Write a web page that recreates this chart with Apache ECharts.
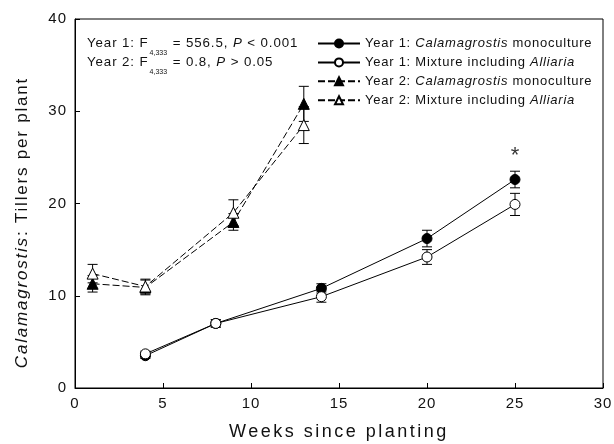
<!DOCTYPE html>
<html><head><meta charset="utf-8">
<script src="https://cdn.jsdelivr.net/npm/echarts@6/dist/echarts.min.js"></script>
<style>html,body{margin:0;padding:0;background:#fff}#c{width:614px;height:444px}</style>
</head><body><div id="c"></div>
<script>
// Data
const y1Weeks = [4, 8, 14, 20, 25];
const y1Mono = [3.5, 7.0, 10.8, 16.2, 22.6];
const y1MonoErr = [0.3, 0.4, 0.5, 0.9, 0.9];
const y1Mix = [3.7, 7.0, 9.9, 14.2, 19.9];
const y1MixErr = [0.3, 0.4, 0.6, 0.8, 1.2];
const y2Weeks = [1, 4, 9, 13];
const y2Mono = [11.3, 10.9, 18.0, 30.8];
const y2MonoErr = [0.9, 0.8, 0.9, 1.9];
const y2Mix = [12.4, 11.0, 19.0, 28.5];
const y2MixErr = [1.0, 0.8, 1.4, 2.0];
const seriesNames = ['Year 1: Calamagrostis monoculture', 'Year 1: Mixture including Alliaria', 'Year 2: Calamagrostis monoculture', 'Year 2: Mixture including Alliaria'];
const xTicks = [0, 5, 10, 15, 20, 25, 30];
const yTicks = [0, 10, 20, 30, 40];
const asterisk = [[25, 25.2]];

// Letter spacing per font size (the reference typesetting is slightly tracked out)
const trackBySize = { '18': '2.5px', '17': '1.8px', '15': '1px', '13': '0.75px', '13.3': '0.9px' };
(function () {
  const P = CanvasRenderingContext2D.prototype;
  const d = Object.getOwnPropertyDescriptor(P, 'font');
  if (!d || !('letterSpacing' in P)) return;
  Object.defineProperty(P, 'font', {
    configurable: true,
    get: function () { return d.get.call(this); },
    set: function (v) {
      d.set.call(this, v);
      const m = /(\d+(?:\.\d+)?)px/.exec(v);
      this.letterSpacing = (m && trackBySize[m[1]]) || '0px';
    }
  });
})();

const zip = (xs, ys) => xs.map((x, i) => [x, ys[i]]);
const zipE = (xs, ys, es) => xs.map((x, i) => [x, ys[i], es[i]]);

function errSeries(data) {
  return {
    type: 'custom', z: 1, silent: true, legendHoverLink: false,
    data: data,
    renderItem: function (params, api) {
      const x = api.value(0), y = api.value(1), e = api.value(2);
      const top = api.coord([x, y + e]);
      const bot = api.coord([x, y - e]);
      const hw = 5;
      const st = { stroke: '#000', lineWidth: 1 };
      return { type: 'group', children: [
        { type: 'line', shape: { x1: top[0], y1: top[1], x2: bot[0], y2: bot[1] }, style: st },
        { type: 'line', shape: { x1: top[0] - hw, y1: top[1], x2: top[0] + hw, y2: top[1] }, style: st },
        { type: 'line', shape: { x1: bot[0] - hw, y1: bot[1], x2: bot[0] + hw, y2: bot[1] }, style: st }
      ]};
    }
  };
}

function lineSeries(name, data, symbol, filled, dashed) {
  return {
    name: name, type: 'line', z: 3, data: data,
    symbol: symbol, symbolSize: symbol === 'triangle' ? 11 : 10,
    showAllSymbol: true,
    lineStyle: { color: '#000', width: 1, type: dashed ? [7, 3] : 'solid' },
    itemStyle: { color: filled ? '#000' : '#fff', borderColor: '#000', borderWidth: 1 },
    emphasis: { disabled: true }
  };
}

const fmtName = (n) => {
  const m = n.match(/^(Year \d: )(Calamagrostis)( monoculture)$/);
  if (m) return '{n|' + m[1] + '}{i|' + m[2] + '}{n|' + m[3] + '}';
  const k = n.match(/^(Year \d: Mixture including )(Alliaria)$/);
  return '{n|' + k[1] + '}{i|' + k[2] + '}';
};

const font = 'Liberation Sans, Arial, sans-serif';
const txt = '#111';
function statRich() {
  return {
    n: { fontSize: 13.3, fontFamily: font, fill: txt, lineHeight: 16, verticalAlign: 'top' },
    i: { fontSize: 13.3, fontStyle: 'italic', fontFamily: font, fill: txt, lineHeight: 16, verticalAlign: 'top' },
    s: { fontSize: 7, fontFamily: font, fill: txt, lineHeight: 7, verticalAlign: 'top', padding: [14, 1, 0, 1] }
  };
}

const chart = echarts.init(document.getElementById('c'));
chart.setOption({
  animation: false,
  backgroundColor: '#fff',
  grid: { left: 75, right: 11, top: 19, bottom: 56, show: true, borderColor: '#000', borderWidth: 1,
    containLabel: false, outerBoundsMode: 'none' },
  xAxis: {
    type: 'value', min: xTicks[0], max: xTicks[xTicks.length - 1], interval: 5,
    name: 'Weeks since planting', nameLocation: 'middle', nameGap: 34,
    nameTextStyle: { fontFamily: font, fontSize: 18, color: txt },
    axisLine: { lineStyle: { color: '#000', width: 1 } },
    axisTick: { inside: true, length: 5, lineStyle: { color: '#000' } },
    axisLabel: { fontFamily: font, fontSize: 15, color: txt, margin: 8 },
    splitLine: { show: false }
  },
  yAxis: {
    type: 'value', min: yTicks[0], max: yTicks[yTicks.length - 1], interval: 10,
    name: '{i|Calamagrostis}{n|: Tillers per plant}', nameLocation: 'middle', nameGap: 43,
    nameTextStyle: { fontFamily: font, fontSize: 17, color: txt, padding: [0, 38, 0, 0],
      rich: { i: { fontStyle: 'italic', fontFamily: font, fontSize: 17, color: txt }, n: { fontFamily: font, fontSize: 17, color: txt } } },
    axisLine: { lineStyle: { color: '#000', width: 1 } },
    axisTick: { inside: true, length: 5, lineStyle: { color: '#000' } },
    axisLabel: { fontFamily: font, fontSize: 15, color: txt, margin: 8 },
    splitLine: { show: false }
  },
  legend: {
    orient: 'vertical', left: 317, top: 35.5, padding: 0, itemGap: 2.9, itemWidth: 42, itemHeight: 10,
    data: seriesNames,
    formatter: fmtName,
    selectedMode: false,
    textStyle: { fontFamily: font, fontSize: 13, color: txt, lineHeight: 16,
      rich: { i: { fontStyle: 'italic', fontFamily: font, fontSize: 13, color: txt, lineHeight: 16 }, n: { fontFamily: font, fontSize: 13, color: txt, lineHeight: 16 } } }
  },
  graphic: [
    { type: 'text', left: 87, top: 36, style: { text: '{n|Year 1: F}{s|4,333}{n| = 556.5, }{i|P}{n| < 0.001}', fontFamily: font, rich: statRich() } },
    { type: 'text', left: 87, top: 55, style: { text: '{n|Year 2: F}{s|4,333}{n| = 0.8, }{i|P}{n| > 0.05}', fontFamily: font, rich: statRich() } }
  ],
  series: [
    errSeries(zipE(y1Weeks, y1Mono, y1MonoErr)),
    errSeries(zipE(y1Weeks, y1Mix, y1MixErr)),
    errSeries(zipE(y2Weeks, y2Mono, y2MonoErr)),
    errSeries(zipE(y2Weeks, y2Mix, y2MixErr)),
    lineSeries(seriesNames[0], zip(y1Weeks, y1Mono), 'circle', true, false),
    lineSeries(seriesNames[1], zip(y1Weeks, y1Mix), 'circle', false, false),
    lineSeries(seriesNames[2], zip(y2Weeks, y2Mono), 'triangle', true, true),
    lineSeries(seriesNames[3], zip(y2Weeks, y2Mix), 'triangle', false, true),
    { type: 'scatter', data: asterisk, symbolSize: 0, silent: true,
      label: { show: true, formatter: '*', position: 'inside', fontFamily: font, fontSize: 22, color: '#000' } }
  ]
});
</script>
</body></html>
